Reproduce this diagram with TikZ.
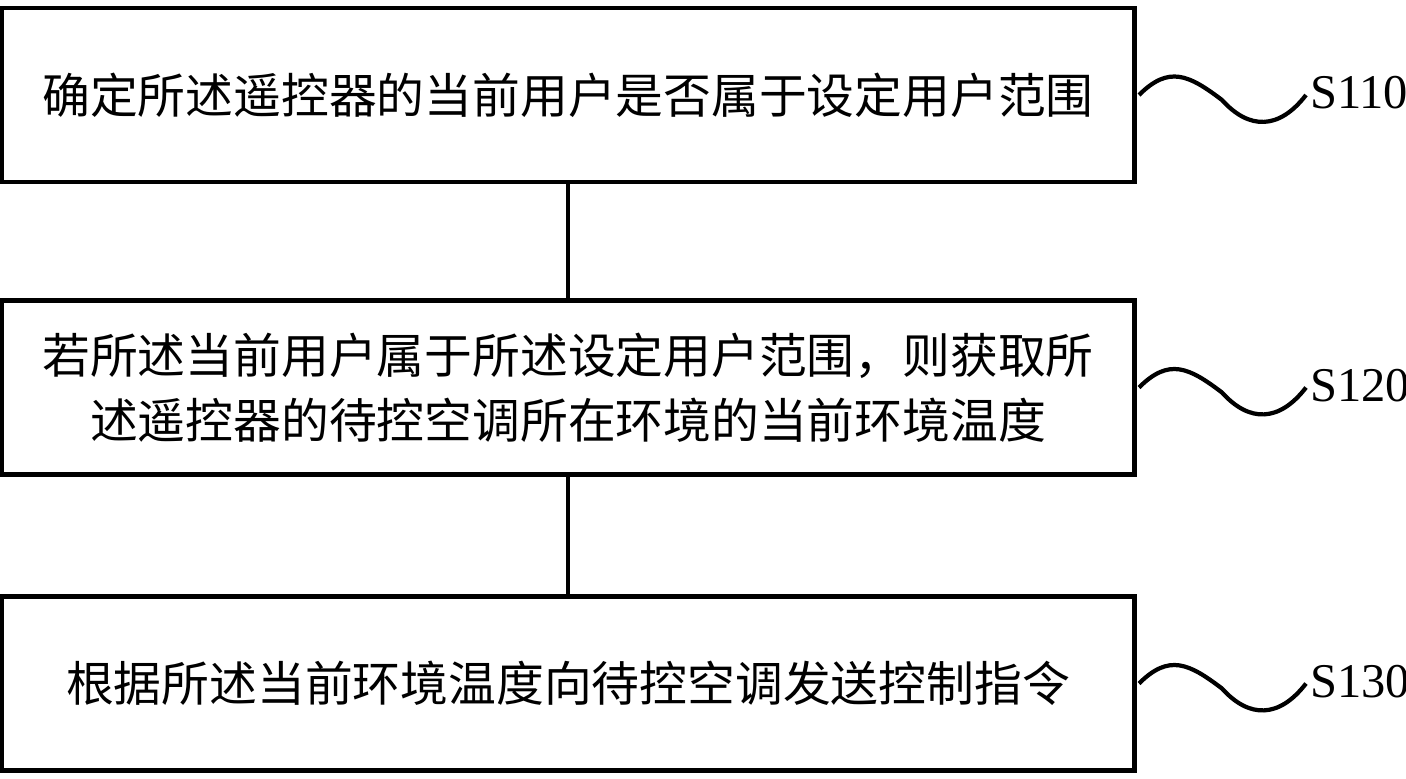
\documentclass[tikz,border=0pt]{standalone}
\usepackage{fontspec}
\setmainfont{Liberation Serif}
\newfontfamily\cjk{Noto Sans CJK SC}
\usetikzlibrary{calc}
\begin{document}
\begin{tikzpicture}[thick, line width=1.3pt,
  stepbox/.style={draw, rectangle, minimum width=11.2cm, minimum height=1.74cm,
    text width=11.1cm, align=center, font=\cjk\fontsize{13.6}{18.5}\selectfont},
  tag/.style={anchor=west, font=\fontsize{13.8}{16}\selectfont, inner sep=0pt}]
      \useasboundingbox (0,0) rectangle (14.06,7.78);
      \coordinate (newcenter) at (5.68, 0);

      \node [stepbox, name=b1] at ($(newcenter) + (0, 6.83)$) {确定所述遥控器的当前用户是否属于设定用户范围};
      \node [stepbox, name=b2] at ($(newcenter) + (0, 3.905)$) {若所述当前用户属于所述设定用户范围，则获取所\\述遥控器的待控空调所在环境的当前环境温度};
      \node [stepbox, name=b3] at ($(newcenter) + (0, 0.945)$) {根据所述当前环境温度向待控空调发送控制指令};

      \draw (b1) -- (b2);
      \draw (b2) -- (b3);

      % wavy leaders to the step labels
      \foreach \b/\s in {b1/S110, b2/S120, b3/S130} {
        \coordinate (w0) at ($(\b.east) + (0.02, 0)$);
        \coordinate (w1) at ($(w0) + (1.67, 0)$);
        \draw [line width=1.2pt] (w0) .. controls ($(w0) + (0.3, 0.3)$) and ($(w0) + (0.5, 0.2)$) ..
          ($(w0) + (0.83, -0.05)$) .. controls ($(w0) + (1.1, -0.35)$) and ($(w0) + (1.4, -0.35)$) .. (w1);
        \node [tag, name=t\b] at ($(w1) + (0.02, 0.02)$) {\s};
      }
    \end{tikzpicture}
\end{document}
